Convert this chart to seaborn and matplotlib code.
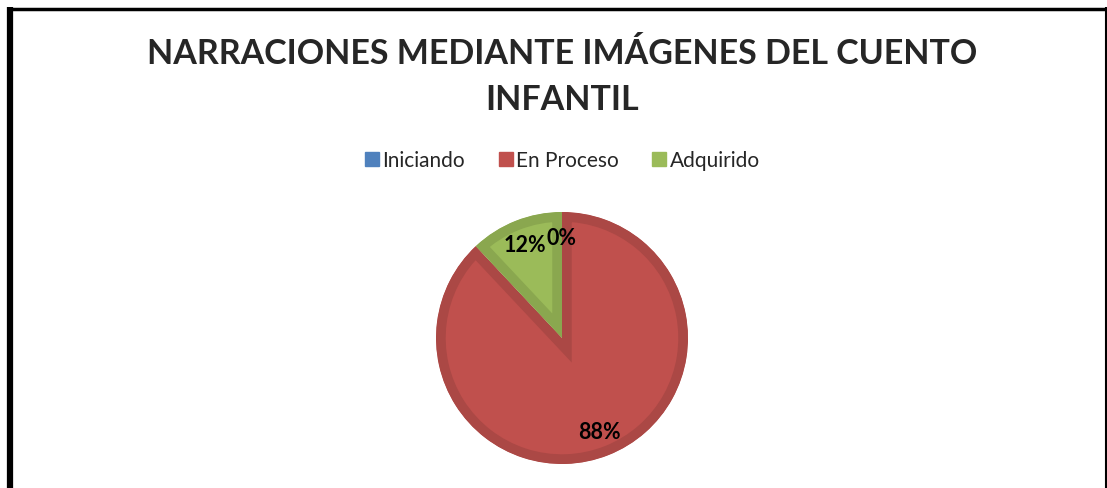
import matplotlib
matplotlib.use('Agg')
import matplotlib.pyplot as plt
from matplotlib.lines import Line2D
import seaborn as sns

sns.set_style('white')
plt.rcParams['font.family'] = ['Lato', 'DejaVu Sans']

categorias = ['Iniciando', 'En Proceso', 'Adquirido']
porcentajes = [0, 88, 12]
colores = ['#4F81BD', '#C0504D', '#9BBB59']
bordes = ['#4673A8', '#AB4845', '#8AA74F']
titulo = 'NARRACIONES MEDIANTE IMÁGENES DEL CUENTO\nINFANTIL'

W, H = 1107, 489
fig = plt.figure(figsize=(W / 100, H / 100), dpi=100)
ax = fig.add_axes([0, 0, 1, 1])
ax.set_axis_off()

r = 126
cx, cy = 562, 339
pie_ax = fig.add_axes([(cx - r) / W, (H - cy - r) / H, 2 * r / W, 2 * r / H])
wedges, _, autotexts = pie_ax.pie(
    porcentajes, colors=colores, startangle=90, counterclock=False,
    autopct='%1.0f%%', pctdistance=0.8,
    textprops={'fontsize': 15.5, 'fontweight': 'bold', 'color': 'black'})
for w, c in zip(wedges, bordes):
    w.set_edgecolor(c)
    w.set_linewidth(14)
    w.set_clip_path(w)
    w.set_clip_on(True)
pie_ax.set_xlim(-1, 1)
pie_ax.set_ylim(-1, 1)
pie_ax.set_aspect('equal')
pie_ax.set_axis_off()

fig.text(0.508, 1 - 77 / H, titulo, ha='center', va='center', fontsize=24.5,
         fontweight='bold', linespacing=1.5)

handles = [Line2D([], [], marker='s', linestyle='', markersize=10,
                  markerfacecolor=c, markeredgecolor=c) for c in colores]
fig.legend(handles, categorias, loc='center', bbox_to_anchor=(0.508, 1 - 161 / H),
           ncol=3, frameon=False, fontsize=15, handletextpad=0.15, columnspacing=1.6,
           handlelength=0.7)

# marco
ax.plot([9.5 / W, 9.5 / W], [0, 1 - 8 / H], color='black', lw=4.5,
        transform=fig.transFigure, solid_capstyle='butt')
ax.plot([7 / W, 1106 / W], [1 - 9.5 / H, 1 - 9.5 / H], color='black', lw=2.5,
        transform=fig.transFigure, solid_capstyle='butt')
ax.plot([1105.5 / W, 1105.5 / W], [0, 1 - 8 / H], color='black', lw=1.5,
        transform=fig.transFigure, solid_capstyle='butt')

fig.savefig('out.png', dpi=100)
